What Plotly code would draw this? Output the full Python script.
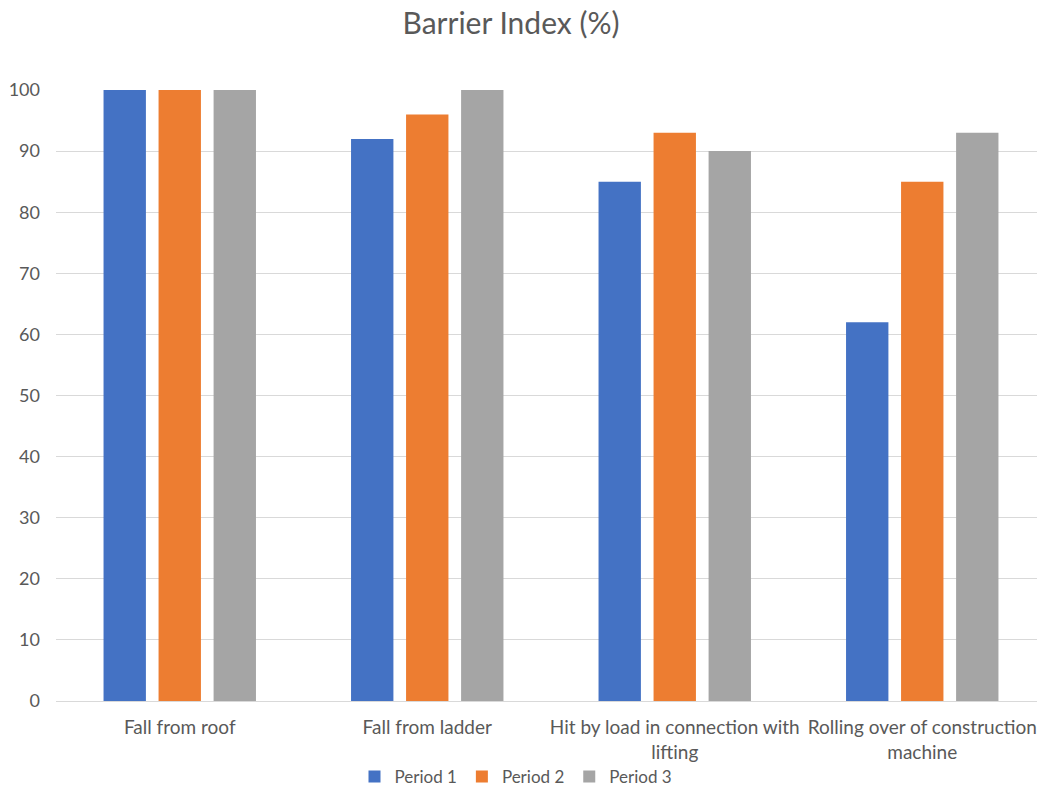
import plotly.graph_objects as go

categories = [
    "Fall from roof",
    "Fall from ladder",
    "Hit by load in connection with<br>lifting",
    "Rolling over of construction<br>machine",
]
period_1 = [100, 92, 85, 62]
period_2 = [100, 96, 93, 85]
period_3 = [100, 100, 90, 93]
series_names = ["Period 1", "Period 2", "Period 3"]
colors = ["#4472C4", "#ED7D31", "#A5A5A5"]
y_ticks = [0, 10, 20, 30, 40, 50, 60, 70, 80, 90, 100]

FONT = "Lato, 'Open Sans', sans-serif"
TEXT = "#595959"

fig = go.Figure()
for name, vals, col in zip(series_names, [period_1, period_2, period_3], colors):
    fig.add_trace(go.Bar(x=categories, y=vals, name=name, marker_color=col,
                         marker_line_width=0))

W, H = 1037, 787
L, R, T, B = 56, 0, 90, 86

fig.update_layout(
    width=W, height=H,
    margin=dict(l=L, r=R, t=T, b=B, autoexpand=False),
    paper_bgcolor="white", plot_bgcolor="white",
    font=dict(family=FONT, color=TEXT, size=19),
    title=dict(text="Barrier Index (%)", x=511 / W, xref="container", xanchor="center",
               y=1 - 23 / H, yref="container", yanchor="middle",
               font=dict(size=30, color=TEXT, family=FONT)),
    barmode="group", bargap=0.333, bargroupgap=0.23,
    showlegend=True,
    legend=dict(orientation="h", x=516 / W, xref="container", xanchor="center",
                y=1 - 777 / H, yref="container", yanchor="middle",
                font=dict(size=17, color=TEXT), itemwidth=30,
                traceorder="normal"),
)
fig.update_xaxes(
    range=[-0.5, 3.5 - 9 / 247.5], showgrid=False, showline=True, automargin=False,
    linecolor="#D9D9D9", linewidth=1, ticks="", tickfont=dict(size=19, color=TEXT),
    ticklabelstandoff=9,
)
fig.update_yaxes(
    range=[0, 100], tickvals=y_ticks, showgrid=True, gridcolor="#D9D9D9", gridwidth=1,
    zeroline=False, showline=False, ticks="", automargin=False,
    tickfont=dict(size=18, color=TEXT), ticklabelstandoff=15,
)

fig.write_html("out.html")
